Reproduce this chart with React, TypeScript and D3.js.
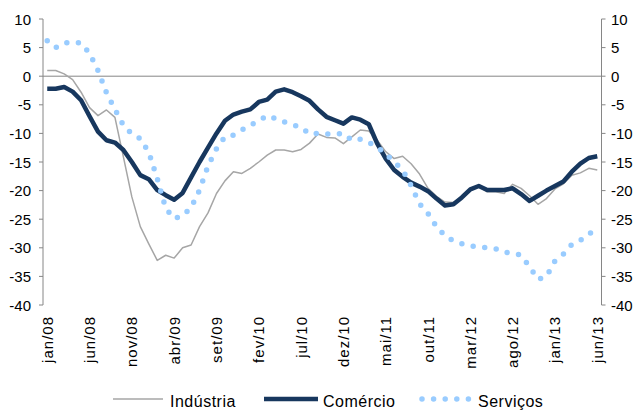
import React from "react";
import * as d3 from "d3";

const width = 642;
const height = 410;

const monthNames = ["jan", "fev", "mar", "abr", "mai", "jun", "jul", "ago", "set", "out", "nov", "dez"];
const years = ["08", "09", "10", "11", "12", "13"];
const categories = years.flatMap((y) => monthNames.map((m) => `${m}/${y}`)).slice(0, 66);

const tickLabels = [
  "jan/08", "jun/08", "nov/08", "abr/09", "set/09", "fev/10", "jul/10",
  "dez/10", "mai/11", "out/11", "mar/12", "ago/12", "jan/13", "jun/13"
];
const yTicks = [10, 5, 0, -5, -10, -15, -20, -25, -30, -35, -40];

const industria = [
  1.0, 1.0, 0.4, -0.6, -2.8, -5.5, -6.9, -5.9, -7.2, -14.1, -21.1, -26.3,
  -29.3, -32.2, -31.3, -31.8, -30.0, -29.5, -26.3, -23.9, -20.5, -18.3, -16.7, -17.0,
  -16.1, -15.0, -13.8, -12.9, -12.9, -13.2, -12.8, -11.7, -10.1, -10.7, -10.8, -11.8,
  -10.6, -9.4, -9.6, -11.2, -13.2, -14.4, -14.0, -15.3, -17.1, -19.6, -21.0, -22.0,
  -22.1, -21.2, -19.9, -19.3, -20.2, -20.2, -20.5, -18.9, -19.6, -20.9, -22.4, -21.4,
  -19.7, -18.8, -17.3, -16.9, -16.1, -16.4
];

const comercio = [
  -2.2, -2.2, -1.9, -2.7, -4.2, -7.0, -9.7, -11.2, -11.6, -12.9, -15.0, -17.3,
  -18.0, -19.9, -20.8, -21.6, -20.4, -17.7, -15.0, -12.5, -10.0, -7.8, -6.7, -6.2,
  -5.8, -4.5, -4.1, -2.7, -2.3, -2.8, -3.5, -4.3, -5.8, -7.1, -7.7, -8.3,
  -7.2, -7.6, -8.4, -11.8, -14.4, -16.4, -17.6, -18.6, -19.3, -20.1, -21.4, -22.6,
  -22.4, -21.2, -19.8, -19.2, -19.9, -19.9, -19.9, -19.6, -20.6, -21.8, -20.9, -20.0,
  -19.2, -18.4, -16.7, -15.3, -14.3, -14.0
];

const servicos = [
  6.2, 5.0, 5.8, 5.9, 5.8, 4.0, 1.0, -2.9, -5.8, -8.6, -10.1, -10.9,
  -13.3, -17.9, -23.1, -24.9, -24.4, -23.0, -19.9, -15.7, -12.7, -10.6, -10.3, -9.4,
  -8.6, -7.8, -6.9, -7.4, -8.0, -8.5, -8.9, -10.1, -10.0, -10.1, -10.1, -10.0,
  -11.2, -11.0, -11.6, -12.4, -13.6, -15.0, -16.4, -19.1, -22.3, -24.0, -26.3, -27.9,
  -28.8, -29.3, -29.7, -29.8, -30.0, -30.2, -30.8, -30.9, -31.3, -33.3, -35.5, -35.0,
  -32.3, -31.1, -29.4, -28.7, -27.6, -26.6
];

const seriesNames = ["Indústria", "Comércio", "Serviços"];

const plotLeft = 43;
const plotRight = 601.5;
const plotTop = 19;
const plotBottom = 305;

const axisColor = "#868686";
const font = "'Liberation Sans', Arial, sans-serif";

const styles = [
  { stroke: "#A6A6A6", width: 1.5, dash: null, cap: "butt" },
  { stroke: "#17375E", width: 4.5, dash: null, cap: "butt" },
  { stroke: "#99CCFF", width: 5.5, dash: "0 11.6", cap: "round" }
];

export default function App() {
  const x = d3.scalePoint<string>().domain(categories).range([plotLeft, plotRight]).padding(0.5);
  const y = d3.scaleLinear().domain([-40, 10]).range([plotBottom, plotTop]);

  const line = d3
    .line<number>()
    .x((_, i) => x(categories[i]) as number)
    .y((d) => y(d));

  const data = [industria, comercio, servicos];

  // legend positions
  const legendItems = [
    { x1: 113, x2: 163, tx: 170 },
    { x1: 264, x2: 318, tx: 323 },
    { x1: 422, x2: 470, tx: 478 }
  ];
  const legendY = 399;

  return (
    <svg
      width={width}
      height={height}
      style={{ position: "absolute", left: 0, top: 0, background: "#fff" }}
      fontFamily={font}
    >
      {/* left axis */}
      <line x1={plotLeft} x2={plotLeft} y1={plotTop} y2={plotBottom} stroke={axisColor} />
      {yTicks.map((t) => (
        <g key={"l" + t}>
          <line x1={plotLeft - 4} x2={plotLeft} y1={y(t)} y2={y(t)} stroke={axisColor} />
          <text x={31} y={y(t)} textAnchor="end" dominantBaseline="central" fontSize={15} fill="#000">
            {t}
          </text>
        </g>
      ))}
      {/* right axis */}
      <line x1={plotRight} x2={plotRight} y1={plotTop} y2={plotBottom} stroke={axisColor} />
      {yTicks.map((t) => (
        <g key={"r" + t}>
          <line x1={plotRight} x2={plotRight + 4} y1={y(t)} y2={y(t)} stroke={axisColor} />
          <text x={611} y={y(t)} textAnchor="start" dominantBaseline="central" fontSize={15} fill="#000">
            {t}
          </text>
        </g>
      ))}
      {/* category axis at zero */}
      <line x1={plotLeft} x2={plotRight} y1={y(0)} y2={y(0)} stroke={axisColor} />
      {tickLabels.map((lab) => (
        <text
          key={lab}
          transform={`translate(${x(lab)}, 316) rotate(-90)`}
          textAnchor="end"
          dominantBaseline="central"
          fontSize={15}
          letterSpacing={1}
          fill="#000"
        >
          {lab}
        </text>
      ))}
      {/* series */}
      {data.map((d, i) => (
        <path
          key={seriesNames[i]}
          d={line(d) as string}
          fill="none"
          stroke={styles[i].stroke}
          strokeWidth={styles[i].width}
          strokeDasharray={styles[i].dash ?? undefined}
          strokeLinecap={styles[i].cap as any}
          strokeLinejoin="round"
        />
      ))}
      {/* legend */}
      {seriesNames.map((name, i) => (
        <g key={"lg" + name}>
          <line
            x1={legendItems[i].x1}
            x2={legendItems[i].x2}
            y1={legendY}
            y2={legendY}
            stroke={styles[i].stroke}
            strokeWidth={styles[i].width}
            strokeDasharray={styles[i].dash ?? undefined}
            strokeLinecap={styles[i].cap as any}
          />
          <text
            x={legendItems[i].tx}
            y={legendY + 2}
            dominantBaseline="central"
            fontSize={16}
            letterSpacing={0.5}
            fill="#000"
          >
            {name}
          </text>
        </g>
      ))}
    </svg>
  );
}
